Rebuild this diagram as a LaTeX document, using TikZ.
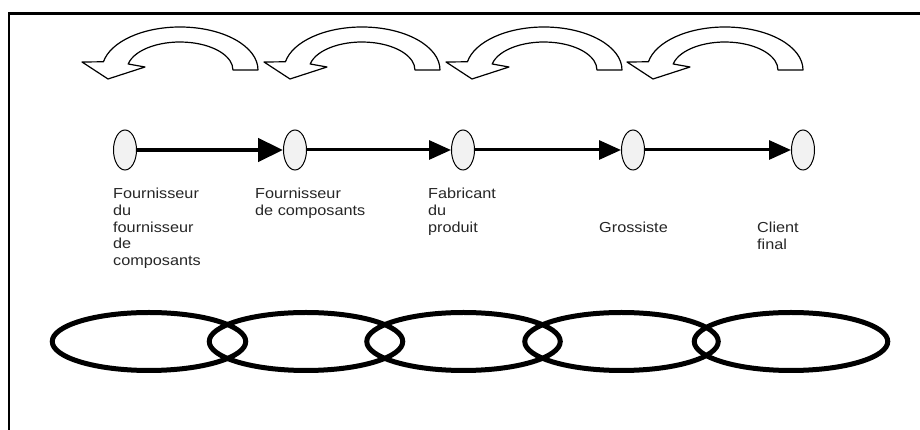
\documentclass[tikz,border=0pt]{standalone}
\usepackage{fontspec}
\newfontfamily\labfont[FakeStretch=1.12]{Liberation Sans}
\usetikzlibrary{shapes.geometric,arrows.meta}
\begin{document}
\begin{tikzpicture}[x=1pt,y=1pt,
  stage/.style={ellipse,draw=black,line width=1pt,fill=black!5,inner sep=0pt,minimum width=23pt,minimum height=40pt},
  link/.style={ellipse,draw=black,line width=5pt,inner sep=0pt,minimum width=193.5pt,minimum height=58pt},
  lab/.style={anchor=north west,inner sep=0pt,align=left,text=black!85,font=\labfont\fontsize{14.5}{16.7}\selectfont},
  flow/.style={line width=3pt,-{Triangle[length=22pt,width=19pt]}},
  bigflow/.style={line width=4.5pt,-{Triangle[length=25pt,width=23pt]}},
  back/.style={draw=black,line width=1.2pt,fill=white,line join=round}]
\useasboundingbox (0,0) rectangle (920,430);
% partial frame
\draw[line width=2.5pt] (8,416.5) -- (920,416.5);
\draw[line width=2.5pt] (9,416.5) -- (9,0);
% curved return arrows
\foreach \dx in {0,182,364,545}{
  \begin{scope}[xshift=\dx]
  \path[back] (258,360) arc[start angle=0,end angle=169,x radius=78,y radius=43]
     -- (82,368) -- (108,351) -- (145,363) -- (128.2,366)
     arc[start angle=167.6,end angle=0,x radius=53,y radius=28] -- cycle;
  \end{scope}
}
% stages
\node[stage] (s1) at (125,280) {};
\node[stage] (s2) at (295,280) {};
\node[stage] (s3) at (463,280) {};
\node[stage] (s4) at (633,280) {};
\node[stage] (s5) at (803,280) {};
\draw[bigflow] (s1.east) -- (s2.west);
\draw[flow] (s2.east) -- (s3.west);
\draw[flow] (s3.east) -- (s4.west);
\draw[flow] (s4.east) -- (s5.west);
% labels
\node[lab] (l1) at (113,242) {Fournisseur\\du\\fournisseur\\de\\composants};
\node[lab] (l2) at (255,242) {Fournisseur\\de composants};
\node[lab] (l3) at (428,242) {Fabricant\\du\\produit};
\node[lab] (l4) at (599,208) {Grossiste};
\node[lab] (l5) at (757,208) {Client\\final};
% chain
\node[link] (c1) at (149,88.5) {};
\node[link] (c2) at (306,88.5) {};
\node[link] (c3) at (463.5,88.5) {};
\node[link] (c4) at (621.5,88.5) {};
\node[link] (c5) at (791,88.5) {};
\end{tikzpicture}
\end{document}
